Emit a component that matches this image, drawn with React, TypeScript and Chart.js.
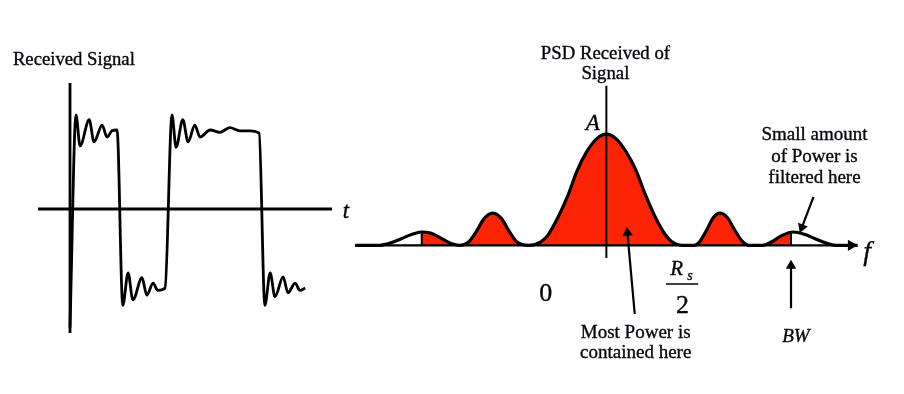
import React, { useEffect, useRef } from 'react';
import { Chart, registerables } from 'chart.js';
Chart.register(...registerables);

// ---- Received signal (time in bit periods, amplitude in levels) ----
const signalT = [0, 0.125, 0.21, 0.4, 0.5, 0.67, 0.77, 0.875, 0.98, 1.1, 1.21, 1.31, 1.5, 1.6, 1.73, 1.83, 1.98,
  2.125, 2.21, 2.35, 2.46, 2.6, 2.71, 2.92, 3.12, 3.33, 3.54, 3.75, 3.94, 4.06, 4.17, 4.27, 4.44, 4.54, 4.69, 4.79, 4.9];
const signalV = [-1.5, 1.19, 0.8, 1.13, 0.85, 1.06, 0.91, 0.99, 1.0, -1.22, -0.81, -1.15, -0.87, -1.09, -0.94, -1.03, -1.0,
  1.19, 0.78, 1.13, 0.85, 1.06, 0.91, 1.0, 0.97, 1.03, 0.99, 0.99, 0.96, -1.22, -0.81, -1.11, -0.86, -1.06, -0.94, -1.03, -1.0];

// ---- PSD of received signal (frequency normalised, power relative to A) ----
const psdF = [-3.43, -3.1, -2.95, -2.8, -2.65, -2.53, -2.4, -2.27, -2.13, -2.0,
  -1.88, -1.77, -1.67, -1.55, -1.43, -1.33, -1.22, -1.06,
  -0.9, -0.8, -0.67, -0.53, -0.4, -0.27, -0.13, 0, 0.13, 0.27, 0.4, 0.53, 0.67, 0.8, 0.9, 1.03,
  1.2, 1.27, 1.37, 1.46, 1.55, 1.65, 1.75, 1.85, 1.95, 2.13,
  2.25, 2.4, 2.55, 2.7, 2.85, 3.0, 3.13, 3.43];
const psdP = [0, 0, 0.02, 0.06, 0.1, 0.12, 0.11, 0.07, 0.02, 0,
  0.03, 0.13, 0.24, 0.29, 0.24, 0.13, 0.03, 0,
  0.03, 0.09, 0.24, 0.44, 0.67, 0.84, 0.96, 1, 0.96, 0.84, 0.68, 0.46, 0.25, 0.1, 0.03, 0,
  0, 0.03, 0.14, 0.25, 0.29, 0.25, 0.14, 0.04, 0, 0,
  0.03, 0.09, 0.12, 0.1, 0.06, 0.02, 0, 0];

const bwLow = -2.52;
const bwHigh = 2.52;
const bwLowLevel = 0.12;
const bwHighLevel = 0.115;

const RED = 'rgb(253,36,6)';
const FONT = '"Liberation Serif", "DejaVu Serif", serif';

type Label = { text: string; x: number; y: number; size: number; italic?: boolean; align?: CanvasTextAlign };

const leftLabels: Label[] = [
  { text: 'Received Signal', x: -1.19, y: 1.823, size: 18.7, align: 'left' },
  { text: 't', x: 5.75, y: -0.114, size: 23, italic: true },
];

const rightLabels: Label[] = [
  { text: 'PSD Received of', x: -0.013, y: 1.678, size: 18.8 },
  { text: 'Signal', x: -0.013, y: 1.496, size: 18.8 },
  { text: 'A', x: -0.187, y: 1.035, size: 23, italic: true },
  { text: '0', x: -0.827, y: -0.504, size: 26 },
  { text: 'R', x: 0.96, y: -0.27, size: 21, italic: true },
  { text: 's', x: 1.14, y: -0.313, size: 14, italic: true },
  { text: '2', x: 1.04, y: -0.609, size: 26 },
  { text: 'Most Power is', x: 0.4, y: -0.835, size: 19 },
  { text: 'contained here', x: 0.4, y: -1.017, size: 19 },
  { text: 'BW', x: 2.587, y: -0.87, size: 19, italic: true },
  { text: 'Small amount', x: 2.84, y: 0.948, size: 19 },
  { text: 'of Power is', x: 2.84, y: 0.748, size: 19 },
  { text: 'filtered here', x: 2.84, y: 0.557, size: 19 },
  { text: 'f', x: 3.56, y: -0.13, size: 28, italic: true },
];

function labelPlugin(items: Label[]) {
  return {
    id: 'textLabels',
    afterDatasetsDraw(chart: any) {
      const { ctx, scales } = chart;
      ctx.save();
      ctx.fillStyle = '#05050f';
      ctx.strokeStyle = '#05050f';
      ctx.lineWidth = 0.35;
      ctx.textBaseline = 'alphabetic';
      for (const it of items) {
        ctx.font = `${it.italic ? 'italic ' : ''}${it.size}px ${FONT}`;
        ctx.textAlign = it.align || 'center';
        const px = scales.x.getPixelForValue(it.x);
        const py = scales.y.getPixelForValue(it.y);
        ctx.fillText(it.text, px, py);
        ctx.strokeText(it.text, px, py);
      }
      ctx.restore();
    },
  };
}

const seg = (pts: number[][], width = 2.5, extra: any = {}) => ({
  data: pts.map(([x, y]) => ({ x, y })),
  borderColor: '#000',
  borderWidth: width,
  pointRadius: 0,
  fill: false,
  ...extra,
});

const arrow = (pts: number[][], rotation: number, r = 6) =>
  seg(pts, 2.2, {
    pointRadius: [0, r],
    pointStyle: 'triangle',
    pointRotation: rotation,
    pointBackgroundColor: '#000',
    pointBorderWidth: 0,
  });

function baseOptions(xmin: number, xmax: number, ymin: number, ymax: number) {
  return {
    responsive: false,
    animation: false as const,
    devicePixelRatio: 1,
    layout: { padding: 0 },
    scales: {
      x: { type: 'linear' as const, display: false, min: xmin, max: xmax },
      y: { type: 'linear' as const, display: false, min: ymin, max: ymax },
    },
    plugins: { legend: { display: false }, tooltip: { enabled: false } },
    elements: { point: { radius: 0 } },
  };
}

// layout: left chart mapping  t=(px-70)/48, v=(209-py)/79
const L = { left: 0, width: 360, height: 394, x0: 70, sx: 48, y0: 209, sy: 79 };
// right chart mapping u=(px-606)/75, v=(247-py)/115
const R = { left: 340, width: 564, height: 394, x0: 606, sx: 75, y0: 247, sy: 115 };

export default function App() {
  const leftRef = useRef<HTMLCanvasElement>(null);
  const rightRef = useRef<HTMLCanvasElement>(null);

  useEffect(() => {
    const signal = signalT.map((t, i) => ({ x: t, y: signalV[i] }));
    const left = new Chart(leftRef.current!, {
      type: 'line',
      data: {
        datasets: [
          { data: signal, borderColor: '#000', borderWidth: 2.8, pointRadius: 0, fill: false, cubicInterpolationMode: 'monotone' } as any,
          seg([[-0.667, 0], [5.458, 0]], 2.8),
          seg([[0, 1.595], [0, -1.57]], 2.8),
        ],
      },
      options: baseOptions(
        (L.left - L.x0) / L.sx, (L.left + L.width - L.x0) / L.sx,
        (L.y0 - L.height) / L.sy, L.y0 / L.sy,
      ) as any,
      plugins: [labelPlugin(leftLabels)],
    });

    const psd = psdF.map((f, i) => ({ x: f, y: psdP[i] }));
    const inBand = [
      { x: bwLow, y: bwLowLevel },
      ...psd.filter((p) => p.x > bwLow && p.x < bwHigh),
      { x: bwHigh, y: bwHighLevel },
    ];
    const right = new Chart(rightRef.current!, {
      type: 'line',
      data: {
        datasets: [
          { data: psd, borderColor: '#000', borderWidth: 3.2, pointRadius: 0, fill: false, cubicInterpolationMode: 'monotone' } as any,
          seg([[bwLow, 0], [bwLow, bwLowLevel]], 2),
          seg([[bwHigh, 0], [bwHigh, bwHighLevel]], 2),
          arrow([[-3.41, 0], [3.34, 0]], 90, 6.5),
          seg([[0, 1.435], [0, -0.113]], 2),
          arrow([[0.387, -0.617], [0.287, 0.113]], -5),
          arrow([[bwHigh, -0.565], [bwHigh, -0.183]], 0),
          arrow([[2.827, 0.435], [2.668, 0.162]], 201),
          seg([[0.813, -0.348], [1.253, -0.348]], 1.6),
          { data: inBand, borderWidth: 0, borderColor: RED, backgroundColor: RED, pointRadius: 0, fill: 'origin', cubicInterpolationMode: 'monotone' } as any,
        ],
      },
      options: baseOptions(
        (R.left - R.x0) / R.sx, (R.left + R.width - R.x0) / R.sx,
        (R.y0 - R.height) / R.sy, R.y0 / R.sy,
      ) as any,
      plugins: [labelPlugin(rightLabels)],
    });

    return () => {
      left.destroy();
      right.destroy();
    };
  }, []);

  return (
    <div style={{ position: 'fixed', left: 0, top: 0, width: 904, height: 394, background: '#fff', overflow: 'hidden' }}>
      <canvas ref={leftRef} width={L.width} height={L.height}
        style={{ position: 'absolute', left: L.left, top: 0, width: L.width, height: L.height }} />
      <canvas ref={rightRef} width={R.width} height={R.height}
        style={{ position: 'absolute', left: R.left, top: 0, width: R.width, height: R.height }} />
    </div>
  );
}
